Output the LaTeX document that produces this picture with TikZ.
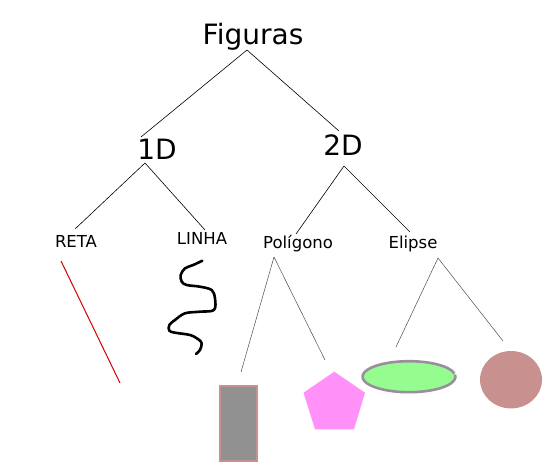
\documentclass[tikz,border=0pt]{standalone}
\usepackage{fontspec}
\setmainfont{DejaVu Sans}
\definecolor{rectfill}{HTML}{919191}
\definecolor{rectline}{HTML}{C99090}
\definecolor{pentafill}{HTML}{FF91F8}
\definecolor{ellfill}{HTML}{95FD8F}
\definecolor{ellline}{HTML}{9A8E9E}
\definecolor{circfill}{HTML}{C99090}
\definecolor{redline}{HTML}{D40000}
\tikzset{
  big/.style={font=\fontsize{28}{32}\selectfont, inner sep=0pt},
  small/.style={font=\fontsize{16.5}{19}\selectfont, inner sep=0pt},
  branch/.style={draw=black, line width=0.6pt},
  lowbranch/.style={draw=black!70, line width=0.5pt},
}
\begin{document}
\begin{tikzpicture}[x=1pt,y=-1pt]
\useasboundingbox (0,0) rectangle (544,473);
% labels
\node[big] (fig) at (253,37) {Figuras};
\node[big] (d1) at (157,149) {1D};
\node[big] (d2) at (343,145) {2D};
\node[small] (reta) at (76,241) {RETA};
\node[small] (linha) at (202,238) {LINHA};
\node[small] (poli) at (298,244) {Polígono};
\node[small] (elip) at (413,244) {Elipse};
% connector ends
\coordinate (figB) at (247,50);
\coordinate (d1T) at (141,137);
\coordinate (d2T) at (339,131);
\coordinate (d1B) at (145,163);
\coordinate (d2B) at (344,166);
\coordinate (retaT) at (75,229);
\coordinate (linhaT) at (205,230);
\coordinate (poliT) at (296,234);
\coordinate (elipT) at (410,232);
\coordinate (poliB) at (274,257);
\coordinate (elipB) at (438,258);
\coordinate (rectT) at (241,372);
\coordinate (pentT) at (325,360);
\coordinate (ellT) at (396,347);
\coordinate (circT) at (503,341);
\draw[branch] (figB) -- (d1T);
\draw[branch] (figB) -- (d2T);
\draw[branch] (d1B) -- (retaT);
\draw[branch] (d1B) -- (linhaT);
\draw[branch] (d2B) -- (poliT);
\draw[branch] (d2B) -- (elipT);
\draw[lowbranch] (poliB) -- (rectT);
\draw[lowbranch] (poliB) -- (pentT);
\draw[lowbranch] (elipB) -- (ellT);
\draw[lowbranch] (elipB) -- (circT);
% red line
\coordinate (r1) at (61,261);
\coordinate (r2) at (120,383);
\draw[redline, line width=1pt] (r1) -- (r2);
% squiggle
\draw[black, line width=2.6pt, line cap=round, line join=round]
  plot[smooth, tension=0.55] coordinates {(202.3,260.7) (193.3,265) (185,268.3) (180.7,275) (181.7,281.7) (186.7,285) (200,286.7) (211.7,290) (215,298.3) (214,310) (200,311.7) (185,313.3) (175,320) (169.3,325) (169.3,330.7) (175,332.7) (190,335) (198.3,339.3) (201.7,343.3) (200,350) (196,354)};
% rectangle
\draw[fill=rectfill, draw=rectline, line width=2pt] (220,386) rectangle (256.5,460.5);
% pentagon
\fill[pentafill] (334.3,371.7) -- (365,392.7) -- (354,429.3) -- (315,429.3) -- (303.5,392.7) -- cycle;
% ellipse
\fill[ellfill] (409,376.7) ellipse [x radius=46.5, y radius=15.5];
\draw[ellline, line width=2.6pt] (409,376.7) ++(-8:46.5 and 15.5) arc[start angle=-8, end angle=348, x radius=46.5, y radius=15.5];
% circle
\fill[circfill] (511,379.7) ellipse [x radius=31, y radius=28.7];
\end{tikzpicture}
\end{document}
